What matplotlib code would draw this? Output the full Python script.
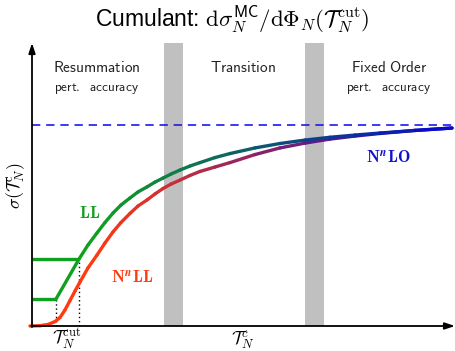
import numpy as np
import matplotlib
matplotlib.use('Agg')
import matplotlib.pyplot as plt
from matplotlib.collections import LineCollection
from matplotlib.colors import to_rgb

plt.rcParams['mathtext.fontset'] = 'cm'
plt.rcParams['font.family'] = ['Liberation Sans', 'DejaVu Sans']

# LL curve (starts at the lower T_cut)
ll_x = [0.6, 1.175, 1.4, 1.625, 1.825, 2.025, 2.225, 2.45, 2.65, 2.875, 3.075, 3.275, 3.475,
        3.7, 3.95, 4.2, 4.575, 4.95, 5.575, 6.2, 6.825, 7.45, 8.075, 8.7, 9.575, 10.5]
ll_y = [0.134, 0.333, 0.403, 0.463, 0.515, 0.562, 0.602, 0.637, 0.667, 0.692, 0.716, 0.736, 0.756,
        0.776, 0.796, 0.813, 0.838, 0.858, 0.886, 0.908, 0.925, 0.939, 0.950, 0.960, 0.973, 0.985]

# N^n LL curve
nll_x = [-0.05, 0.2, 0.4, 0.575, 0.7, 0.825, 0.95, 1.075, 1.2, 1.4, 1.625, 1.825, 2.025, 2.225,
         2.45, 2.65, 2.875, 3.075, 3.275, 3.475, 3.7, 3.95, 4.2, 4.575, 4.95, 5.575, 6.2, 6.825,
         7.45, 8.075, 8.7, 9.575, 10.5]
nll_y = [0.0, 0.0015, 0.0075, 0.022, 0.042, 0.080, 0.127, 0.174, 0.219, 0.289, 0.353, 0.413, 0.468,
         0.515, 0.560, 0.597, 0.627, 0.657, 0.684, 0.706, 0.726, 0.749, 0.769, 0.791, 0.813, 0.853,
         0.886, 0.910, 0.930, 0.945, 0.958, 0.973, 0.985]

# cut values and plateau heights
tcut = [0.6, 1.175]
plateau = [0.134, 0.333]
nlo_level = 1.0

# transition bands
bands = [(3.3, 3.78), (6.83, 7.3)]
x_max = 10.575
y_max = 1.408

fig = plt.figure(figsize=(4.55, 3.51), dpi=100)
ax = fig.add_axes([0, 0, 1, 1])
ax.set_xlim(-0.8, 10.575)
ax.set_ylim(-0.1244, 1.622)
ax.axis('off')

for x0, x1 in bands:
    ax.fill_between([x0, x1], 0, y_max, color='#c0c0c0', lw=0, zorder=1)

# fixed order asymptote
ax.plot([0, x_max], [nlo_level, nlo_level], color='#1a1aee', lw=1.2,
        linestyle=(0, (5, 3.5)), zorder=2)


def gradient_line(xs, ys, c_start, c_end, x0=1.6, x1=10.2):
    pts = np.column_stack([xs, ys])
    segs = np.stack([pts[:-1], pts[1:]], axis=1)
    xm = 0.5 * (pts[:-1, 0] + pts[1:, 0])
    t = np.clip((xm - x0) / (x1 - x0), 0, 1)[:, None]
    cols = (1 - t) * np.array(to_rgb(c_start)) + t * np.array(to_rgb(c_end))
    lc = LineCollection(segs, colors=cols, linewidths=2.4, capstyle='round',
                        joinstyle='round', zorder=4)
    ax.add_collection(lc)


gradient_line(nll_x, nll_y, '#ff3a10', '#0a0ac8')
gradient_line(ll_x, ll_y, '#10a020', '#0a0ac8')

# LL plateaus
for tc, p in zip(tcut, plateau):
    ax.plot([0, tc], [p, p], color='#10a020', lw=2.4, solid_capstyle='butt', zorder=4)
    ax.plot([tc, tc], [0, p], color='black', lw=1.0, linestyle=(0, (1, 2)), zorder=3)

# axes with arrows
ax.annotate('', xy=(0, y_max), xytext=(0, -0.005),
            arrowprops=dict(arrowstyle='-|>,head_length=0.6,head_width=0.2',
                            color='black', lw=1.3, shrinkA=0, shrinkB=0), zorder=5)
ax.annotate('', xy=(x_max, 0), xytext=(-0.02, 0),
            arrowprops=dict(arrowstyle='-|>,head_length=0.6,head_width=0.2',
                            color='black', lw=1.3, shrinkA=0, shrinkB=0), zorder=5)

# region labels
ax.text(1.625, 1.284, r'$\mathsf{Resummation}$', ha='center', va='center', fontsize=11, color='#222222')
ax.text(1.625, 1.184, r'$\mathsf{pert.\ \ accuracy}$', ha='center', va='center', fontsize=9.5, color='#222222')
ax.text(5.275, 1.284, r'$\mathsf{Transition}$', ha='center', va='center', fontsize=11, color='#222222')
ax.text(8.925, 1.284, r'$\mathsf{Fixed\ Order}$', ha='center', va='center', fontsize=11, color='#222222')
ax.text(8.925, 1.184, r'$\mathsf{pert.\ \ accuracy}$', ha='center', va='center', fontsize=9.5, color='#222222')

# curve labels
ax.text(1.45, 0.562, r'$\mathbf{LL}$', ha='center', va='center', fontsize=12, color='#10a020')
ax.text(2.5, 0.244, r'$\mathbf{N}^{\mathbfit{n}}\mathbf{LL}$', ha='center', va='center', fontsize=12, color='#ff3a10')
ax.text(8.9, 0.841, r'$\mathbf{N}^{\mathbfit{n}}\mathbf{LO}$', ha='center', va='center', fontsize=12, color='#1010d0')

# axis labels
ax.text(-0.42, 0.70, r'$\sigma(\mathcal{T}_N^{\mathrm{c}})$', ha='center', va='center',
        rotation=90, fontsize=13)
ax.text(5.275, -0.07, r'$\mathcal{T}_N^{c}$', ha='center', va='center', fontsize=13)
ax.text(0.875, -0.062, r'$\mathcal{T}_N^{\mathrm{cut}}$', ha='center', va='center', fontsize=13)

fig.text(232 / 455, 1 - 19 / 351,
         r'Cumulant: $\mathrm{d}\sigma_N^{\mathsf{MC}}/\mathrm{d}\Phi_N(\mathcal{T}_N^{\mathrm{cut}})$',
         ha='center', va='center', fontsize=16.5)

fig.savefig('out.png', dpi=100)
